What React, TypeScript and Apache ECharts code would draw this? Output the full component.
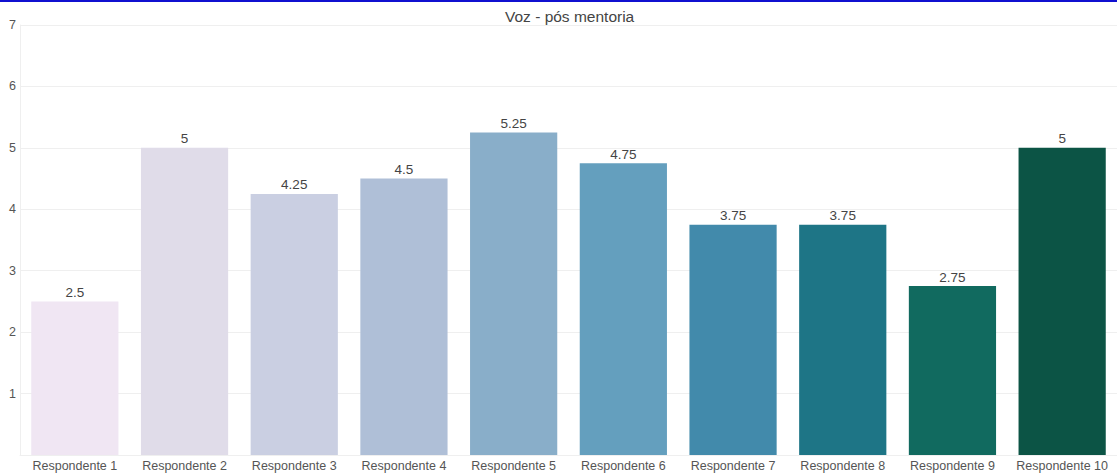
import React, { useEffect, useRef } from "react";
import * as echarts from "echarts";

const categories = [
  "Respondente 1",
  "Respondente 2",
  "Respondente 3",
  "Respondente 4",
  "Respondente 5",
  "Respondente 6",
  "Respondente 7",
  "Respondente 8",
  "Respondente 9",
  "Respondente 10",
];
const values = [2.5, 5, 4.25, 4.5, 5.25, 4.75, 3.75, 3.75, 2.75, 5];
const barColors = [
  "#f0e6f3",
  "#e0dce9",
  "#cacfe2",
  "#afbfd7",
  "#89aec9",
  "#649fbe",
  "#428aab",
  "#1e7586",
  "#116a5f",
  "#0c5445",
];
const yTicks = [0, 1, 2, 3, 4, 5, 6, 7];

export default function App() {
  const ref = useRef<HTMLDivElement>(null);
  useEffect(() => {
    const chart = echarts.init(ref.current!, undefined, { renderer: "svg" });
    const font = "'Liberation Sans', Arial, sans-serif";
    chart.setOption({
      animation: false,
      backgroundColor: "#ffffff",
      title: {
        text: "Voz - pós mentoria",
        left: 505,
        top: 8,
        padding: 0,
        textStyle: { fontFamily: font, fontSize: 15.5, fontWeight: "normal", color: "#444444" },
      },
      grid: { left: 20, right: -3, top: 25, bottom: 18, containLabel: false },
      xAxis: {
        type: "category",
        data: categories,
        axisLine: { show: true, lineStyle: { color: "#efefef" } },
        axisTick: { show: false },
        axisLabel: { fontFamily: font, fontSize: 12.5, color: "#555555", margin: 4, interval: 0 },
        splitLine: { show: false },
      },
      yAxis: {
        type: "value",
        min: yTicks[0],
        max: yTicks[yTicks.length - 1],
        interval: 1,
        axisLine: { show: true, lineStyle: { color: "#efefef" } },
        axisTick: { show: false },
        axisLabel: {
          fontFamily: font,
          fontSize: 12.5,
          color: "#555555",
          margin: 4,
          formatter: (v: number) => (v === 0 ? "" : String(v)),
        },
        splitLine: { show: true, lineStyle: { color: "#efefef" } },
      },
      series: [
        {
          type: "bar",
          data: values.map((v, i) => ({ value: v, itemStyle: { color: barColors[i] } })),
          barWidth: "79.5%",
          label: {
            show: true,
            position: "top",
            distance: 2,
            fontFamily: font,
            fontSize: 13.5,
            color: "#444444",
          },
        },
      ],
      graphic: [
        {
          type: "rect",
          left: 0,
          top: 0,
          shape: { width: 1117, height: 2 },
          style: { fill: "#1010d0" },
          z: 100,
        },
      ],
    });
    return () => chart.dispose();
  }, []);
  return (
    <div
      ref={ref}
      style={{ position: "fixed", left: 0, top: 0, width: 1117, height: 473 }}
    />
  );
}
